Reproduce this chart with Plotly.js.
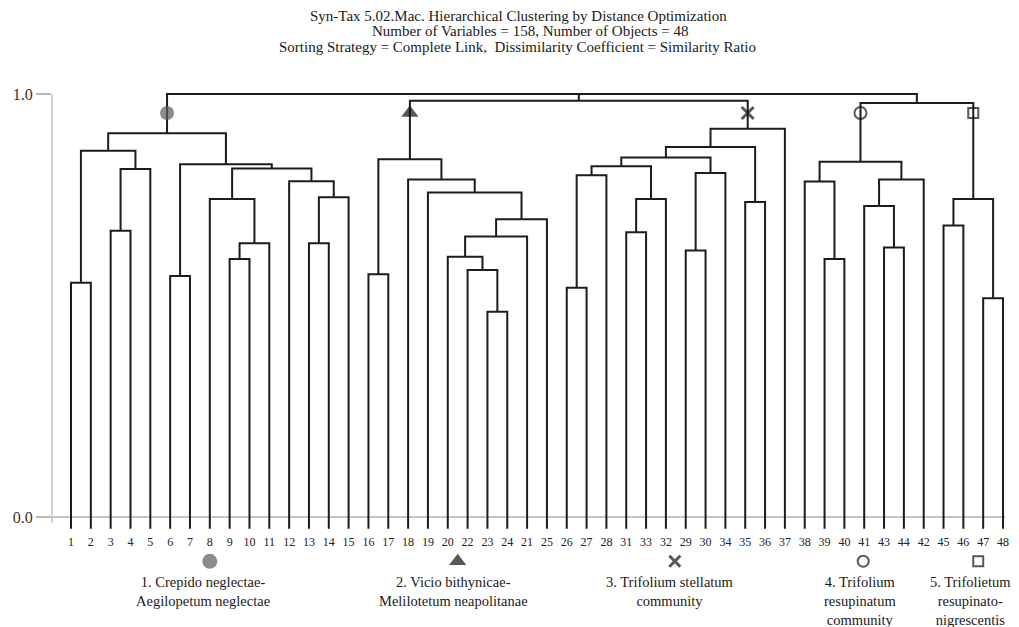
<!DOCTYPE html>
<html>
<head>
<meta charset="utf-8">
<script src="https://cdn.plot.ly/plotly-3.0.1.min.js"></script>
<style>html,body{margin:0;padding:0;background:#fff;}</style>
</head>
<body>
<div id="chart" style="width:1019px;height:627px;"></div>
<script>
// ---- Data ----
// Leaf labels in dendrogram order (positions 1..48)
const leafLabels = ['1','2','3','4','5','6','7','8','9','10','11','12','13','14','15','16','17','18','19','20','22','23','24','21','25','26','27','28','31','33','32','29','30','34','35','36','37','38','39','40','41','43','44','42','45','46','47','48'];

// Merge table (R hclust convention: negative = leaf position, positive = earlier merge number)
const mergeLeft   = [-1, -3,  2,  1, -6, -9,  6, -8, -13,  9, -12,  8,  5,  4, -16, -22, -21, -20, 18, 19, -19, -18, 15, -26, 24, -29, 26, 25, -32, 29, 28, -35, 31, 33, -39, -38, -42, -41, 38, 36, -45, -47, 41, 23, 40, 14, 46];
const mergeRight  = [-2, -4, -5,  3, -7,-10,-11,  7, -14,-15,  10, 11, 12, 13, -17, -23,  16,  17,-24,-25,  20,  21, 22, -27,-28, -30,-31, 27, -33,-34, 30, -36, 32,-37, -40,  35, -43,  37,-44, 39, -46, -48, 42, 34, 43, 45, 44];
const mergeHeight = [0.554,0.677,0.823,0.866,0.570,0.610,0.647,0.752,0.647,0.756,0.794,0.824,0.834,0.907,
                     0.574,0.485,0.584,0.615,0.663,0.704,0.767,0.798,0.846,
                     0.542,0.808,0.673,0.752,0.829,0.630,0.813,0.850,0.745,0.875,0.918,
                     0.610,0.793,0.637,0.735,0.798,0.840,
                     0.689,0.517,0.752,
                     0.984,0.979,1.000,1.000];

// Community groups: root merge of each cluster, name, symbol
const clusterRoots = [14, 23, 34, 40, 43];
const clusterNames = ['1. Crepido neglectae-<br>Aegilopetum neglectae',
                      '2. Vicio bithynicae-<br>Melilotetum neapolitanae',
                      '3. Trifolium stellatum<br>community',
                      '4. Trifolium<br>resupinatum<br>community',
                      '5. Trifolietum<br>resupinato-<br>nigrescentis'];
const clusterSymbols = ['circle','triangle-up','x-thin-open','circle-open','square-open'];
const clusterColors  = ['#5a5a5a','#111111','#111111','#111111','#111111'];

const titleLines = ['Syn-Tax 5.02.Mac. Hierarchical Clustering by Distance Optimization',
                    'Number of Variables = 158, Number of Objects = 48',
                    'Sorting Strategy = Complete Link,  Dissimilarity Coefficient = Similarity Ratio'];

// ---- Layout constants (styling / placement) ----
const LEAF_BASE = -0.028;
const MARK_Y = 0.955;
const legendMarkX = [8.0, 20.5, 31.45, 40.95, 46.75];
const legendTextX = [7.65, 20.3, 31.2, 40.8, 46.35];
const titleX = [0.490, 0.5026, 0.488];
const titleY = [1.0786, 1.0518, 1.0232];
const FONT = '"Liberation Serif", "Times New Roman", Times, serif';

// ---- Build dendrogram segments ----
const mx = [];
function nodeX(r){ return r < 0 ? -r : mx[r-1]; }
function nodeH(r){ return r < 0 ? LEAF_BASE : mergeHeight[r-1]; }
const segX = [], segY = [];
for (let i = 0; i < mergeHeight.length; i++){
  const L = mergeLeft[i], R = mergeRight[i], h = mergeHeight[i];
  const xl = nodeX(L), xr = nodeX(R);
  mx.push((xl + xr) / 2);
  segX.push(xl, xl, xr, xr, null);
  segY.push(nodeH(L), h, h, nodeH(R), null);
}
const positions = leafLabels.map((_, i) => i + 1);
const rootX = clusterRoots.map(r => mx[r-1]);

const traces = [
  { type:'scatter', mode:'lines', x:segX, y:segY, hoverinfo:'skip',
    line:{color:'#1c1c1c', width:2}, showlegend:false },
  { type:'scatter', mode:'markers', x:rootX, y:clusterRoots.map(() => MARK_Y), hoverinfo:'skip',
    cliponaxis:false, showlegend:false,
    marker:{symbol:clusterSymbols, size:[14,15,12,12,10], color:clusterColors,
            line:{color:clusterColors, width:[0,0,3,2,2]}} },
  { type:'scatter', mode:'markers', x:legendMarkX, y:legendMarkX.map(() => 0.7), xaxis:'x', yaxis:'y2',
    hoverinfo:'skip', cliponaxis:false, showlegend:false,
    marker:{symbol:clusterSymbols, size:[15,15,11,11,10], color:clusterColors,
            line:{color:clusterColors, width:[0,0,3,2,2]}} }
];

const annotations = clusterNames.map((t, i) => ({
  x: legendTextX[i], y: 0.0857, xref:'x', yref:'paper', text:t, showarrow:false,
  xanchor:'center', yanchor:'top', align:'center',
  font:{family:FONT, size:14.5, color:'#1a1a1a'}
})).concat(titleLines.map((t, i) => ({
  x: titleX[i], y: titleY[i], xref:'paper', yref:'paper', text:t, showarrow:false,
  xanchor:'center', yanchor:'middle', font:{family:FONT, size:15, color:'#1a1a1a'}
})));

const layout = {
  width:1019, height:627,
  margin:{l:52, r:14, t:60, b:7},
  paper_bgcolor:'#ffffff', plot_bgcolor:'#ffffff',
  font:{family:FONT},
  xaxis:{range:[0.0419, 48.10], anchor:'y', tickmode:'array', tickvals:positions, ticktext:leafLabels,
         showgrid:false, zeroline:false, showline:false, ticks:'', ticklabelstandoff:2,
         tickfont:{family:FONT, size:12, color:'#222'}, fixedrange:true},
  yaxis:{domain:[0.1589, 1], range:[-0.0331, 1.0804], tickmode:'array', tickvals:[0,1], ticktext:['0.0','1.0'],
         showgrid:false, zeroline:true, zerolinecolor:'#c4c4c4', zerolinewidth:2,
         showline:false, ticks:'outside', ticklen:15, tickwidth:1.5, tickcolor:'#b8b8b8',
         tickfont:{family:FONT, size:16, color:'#333'}, fixedrange:true},
  yaxis2:{domain:[0, 0.15], range:[0, 1], visible:false, fixedrange:true, anchor:'x'},
  shapes:[{type:'line', xref:'paper', yref:'y', x0:0, x1:0, y0:-0.014, y1:1.0,
           line:{color:'#c4c4c4', width:1.5}, layer:'below'}],
  annotations:annotations,
  hovermode:false
};

Plotly.newPlot('chart', traces, layout, {displayModeBar:false, staticPlot:true});
</script>
</body>
</html>
